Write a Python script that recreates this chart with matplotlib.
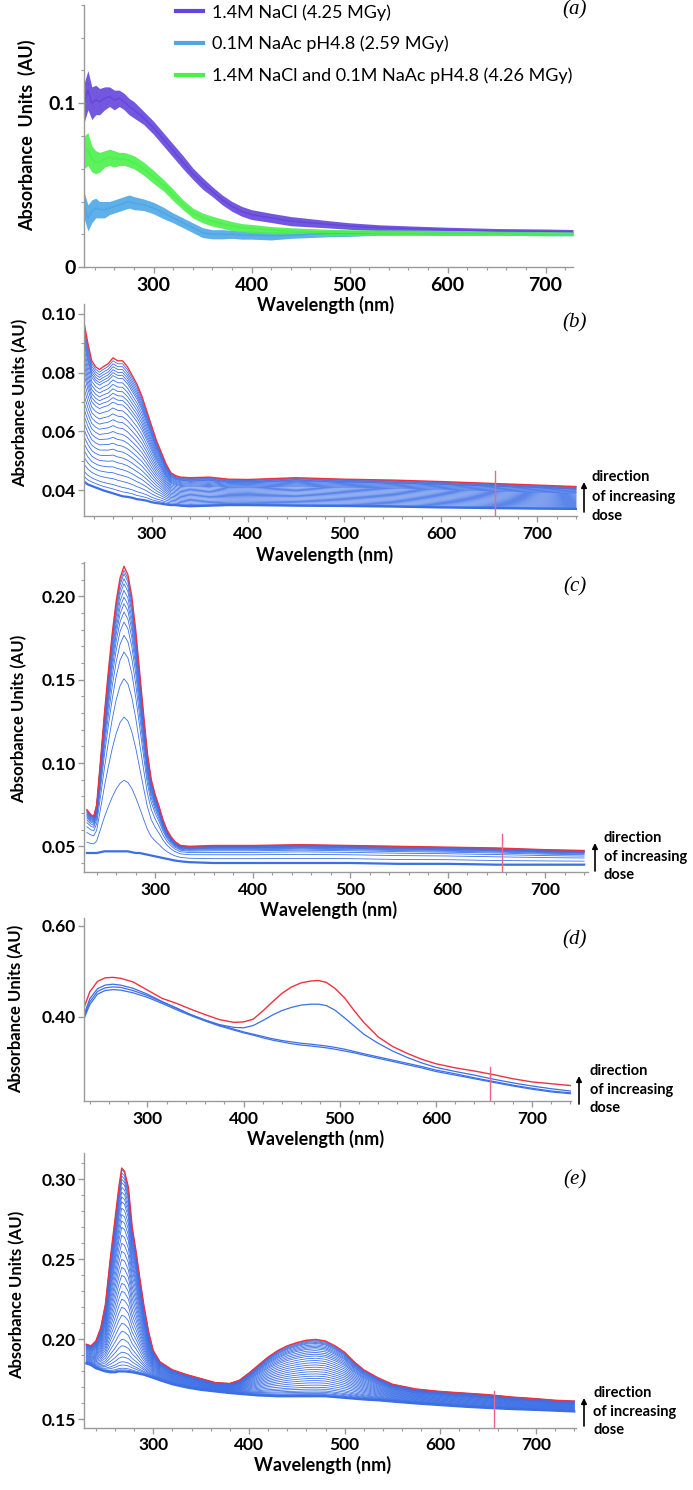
import numpy as np
import matplotlib.pyplot as plt
from matplotlib.ticker import MultipleLocator, FixedLocator, FormatStrFormatter

plt.rcParams['font.family'] = ['Lato', 'DejaVu Sans']
plt.rcParams['font.weight'] = 'bold'

W, H = 693, 1490
BLUE = '#3c6fe6'
RED = '#ee3340'
PINK = '#f0648a'

# ---- panel (a): three spectra, centre line and noise half-width
wl_a = [229, 233, 237, 241, 245, 250, 255, 260, 265, 270, 275, 280, 290, 300, 310, 320, 330, 340,
        350, 360, 370, 380, 390, 400, 420, 440, 460, 480, 500, 530, 560, 600, 650, 700, 728]
nacl = [0.100, 0.108, 0.100, 0.102, 0.101, 0.103, 0.104, 0.102, 0.103, 0.101, 0.098, 0.096, 0.091,
        0.085, 0.078, 0.071, 0.064, 0.057, 0.051, 0.046, 0.041, 0.037, 0.034, 0.032, 0.030, 0.028,
        0.027, 0.026, 0.025, 0.024, 0.0235, 0.0228, 0.022, 0.0218, 0.0215]
nacl_noise = [0.012, 0.012, 0.010, 0.009, 0.008, 0.007, 0.006, 0.006, 0.005, 0.005, 0.005, 0.005,
              0.004, 0.004, 0.004, 0.004, 0.004, 0.0035, 0.0035, 0.003, 0.003, 0.003, 0.003, 0.003,
              0.0028, 0.0028, 0.0025, 0.0022, 0.002, 0.0018, 0.0016, 0.0015, 0.0015, 0.0014, 0.0014]
naac = [0.038, 0.030, 0.034, 0.036, 0.035, 0.035, 0.036, 0.037, 0.038, 0.039, 0.040, 0.039, 0.038,
        0.036, 0.033, 0.030, 0.027, 0.024, 0.021, 0.020, 0.020, 0.020, 0.0195, 0.0195, 0.019, 0.0195,
        0.020, 0.0205, 0.0205, 0.021, 0.021, 0.0208, 0.0208, 0.0205, 0.0205]
naac_noise = [0.008, 0.008, 0.007, 0.006, 0.005, 0.005, 0.004, 0.004, 0.004, 0.004, 0.004, 0.004,
              0.0035, 0.0035, 0.0035, 0.003, 0.003, 0.003, 0.003, 0.0028, 0.0028, 0.0025, 0.0025,
              0.0025, 0.0025, 0.002, 0.002, 0.002, 0.0018, 0.0016, 0.0015, 0.0015, 0.0014, 0.0014, 0.0014]
both = [0.070, 0.072, 0.066, 0.064, 0.064, 0.066, 0.067, 0.066, 0.066, 0.066, 0.065, 0.064, 0.060,
        0.055, 0.050, 0.044, 0.038, 0.033, 0.030, 0.028, 0.0265, 0.025, 0.024, 0.0235, 0.0225, 0.022,
        0.0215, 0.021, 0.021, 0.021, 0.021, 0.0208, 0.0208, 0.0205, 0.0205]
both_noise = [0.010, 0.010, 0.008, 0.007, 0.006, 0.005, 0.005, 0.005, 0.004, 0.004, 0.004, 0.004,
              0.004, 0.004, 0.0035, 0.0035, 0.003, 0.003, 0.003, 0.003, 0.0028, 0.0028, 0.0025, 0.0025,
              0.0022, 0.002, 0.002, 0.002, 0.0018, 0.0016, 0.0015, 0.0015, 0.0014, 0.0014, 0.0014]
labels_a = ['1.4M NaCl (4.25 MGy)', '0.1M NaAc pH4.8 (2.59 MGy)',
            '1.4M NaCl and 0.1M NaAc pH4.8 (4.26 MGy)']
colors_a = ['#6446dc', '#4ea6e6', '#4cf04c']

# ---- panel (b): highest-dose (red) and lowest-dose curves, plus dose levels at 260 nm
wl_b = [230, 234, 238, 242, 246, 250, 255, 260, 265, 270, 275, 280, 285, 290, 295, 300, 305, 310,
        315, 320, 325, 330, 340, 360, 380, 400, 450, 500, 550, 600, 650, 700, 740]
top_b = [0.097, 0.090, 0.084, 0.082, 0.081, 0.082, 0.083, 0.085, 0.084, 0.084, 0.082, 0.079, 0.076,
         0.072, 0.067, 0.062, 0.057, 0.053, 0.049, 0.046, 0.045, 0.0445, 0.0443, 0.0445, 0.0438,
         0.0437, 0.0443, 0.0438, 0.0435, 0.0430, 0.0424, 0.0418, 0.0413]
low_b = [0.043, 0.042, 0.0415, 0.041, 0.0405, 0.040, 0.0395, 0.039, 0.0385, 0.038, 0.0378, 0.0375,
         0.037, 0.0368, 0.0365, 0.036, 0.0357, 0.0355, 0.0352, 0.035, 0.035, 0.0348, 0.0346, 0.0348,
         0.035, 0.035, 0.0348, 0.0347, 0.0345, 0.0342, 0.034, 0.0338, 0.0337]
ref_b = 260
levels_b = [0.0390, 0.0405, 0.042, 0.044, 0.046, 0.048, 0.050, 0.052, 0.054, 0.056, 0.058, 0.060,
            0.062, 0.064, 0.066, 0.068, 0.070, 0.0715, 0.073, 0.0745, 0.076, 0.0775, 0.079, 0.080,
            0.081, 0.082, 0.083, 0.084]

# ---- panel (c)
wl_c = [230, 234, 237, 240, 244, 248, 252, 256, 260, 264, 268, 272, 276, 280, 284, 288, 292, 296,
        300, 304, 308, 312, 316, 320, 326, 335, 360, 400, 450, 500, 550, 600, 650, 700, 740]
top_c = [0.072, 0.069, 0.068, 0.075, 0.102, 0.130, 0.155, 0.178, 0.197, 0.211, 0.218, 0.213, 0.200,
         0.180, 0.155, 0.130, 0.106, 0.090, 0.081, 0.074, 0.066, 0.060, 0.056, 0.053, 0.0505, 0.050,
         0.0505, 0.0505, 0.051, 0.0505, 0.050, 0.0495, 0.049, 0.048, 0.0475]
low_c = [0.046, 0.046, 0.046, 0.046, 0.0465, 0.047, 0.047, 0.047, 0.047, 0.047, 0.047, 0.047, 0.0465,
         0.046, 0.046, 0.0455, 0.045, 0.0445, 0.044, 0.0435, 0.043, 0.0425, 0.042, 0.0415, 0.041,
         0.0405, 0.040, 0.040, 0.040, 0.040, 0.0395, 0.0395, 0.039, 0.039, 0.039]
ref_c = 268
levels_c = [0.047, 0.0896, 0.1276, 0.1506, 0.1666, 0.1766, 0.1846, 0.1906, 0.1956, 0.1996, 0.2036,
            0.2076, 0.2106, 0.2136, 0.2156]

# ---- panel (d): only a handful of spectra
wl_d = [234, 240, 248, 256, 264, 272, 285, 300, 315, 330, 345, 360, 375, 390, 400, 410, 420, 430,
        440, 450, 460, 470, 478, 486, 495, 505, 515, 525, 540, 555, 570, 585, 600, 620, 640, 660,
        680, 700, 720, 740]
red_d = [0.420, 0.455, 0.478, 0.486, 0.487, 0.485, 0.477, 0.459, 0.441, 0.430, 0.417, 0.405, 0.394,
         0.388, 0.389, 0.395, 0.413, 0.433, 0.452, 0.466, 0.475, 0.479, 0.480, 0.476, 0.463, 0.442,
         0.414, 0.388, 0.356, 0.335, 0.320, 0.307, 0.297, 0.288, 0.281, 0.273, 0.264, 0.257, 0.253,
         0.249]
blue_d = [
    [0.405, 0.440, 0.462, 0.470, 0.472, 0.470, 0.463, 0.450, 0.434, 0.420, 0.405, 0.393, 0.383,
     0.377, 0.376, 0.381, 0.392, 0.404, 0.414, 0.421, 0.426, 0.428, 0.428, 0.425, 0.415, 0.398,
     0.380, 0.362, 0.342, 0.325, 0.311, 0.299, 0.289, 0.280, 0.272, 0.263, 0.255, 0.248, 0.242,
     0.237],
    [0.400, 0.433, 0.456, 0.464, 0.466, 0.465, 0.458, 0.447, 0.433, 0.419, 0.405, 0.393, 0.382,
     0.373, 0.367, 0.362, 0.357, 0.352, 0.348, 0.345, 0.342, 0.340, 0.338, 0.336, 0.333, 0.329,
     0.324, 0.319, 0.312, 0.305, 0.298, 0.291, 0.283, 0.275, 0.266, 0.258, 0.250, 0.243, 0.237,
     0.233],
    [0.396, 0.427, 0.450, 0.458, 0.460, 0.459, 0.453, 0.443, 0.430, 0.416, 0.403, 0.391, 0.380,
     0.371, 0.365, 0.360, 0.354, 0.349, 0.345, 0.341, 0.338, 0.336, 0.334, 0.332, 0.329, 0.325,
     0.321, 0.316, 0.309, 0.302, 0.295, 0.288, 0.280, 0.272, 0.264, 0.256, 0.248, 0.241, 0.235,
     0.231],
]

# ---- panel (e)
wl_e = [230, 235, 240, 245, 250, 255, 260, 264, 267, 270, 274, 278, 282, 286, 290, 295, 300, 307,
        320, 335, 350, 365, 380, 390, 400, 410, 420, 430, 440, 450, 460, 470, 480, 490, 500, 510,
        520, 535, 550, 575, 600, 625, 650, 675, 700, 720, 740]
top_e = [0.197, 0.196, 0.199, 0.207, 0.222, 0.250, 0.275, 0.295, 0.307, 0.305, 0.295, 0.270, 0.255,
         0.238, 0.222, 0.205, 0.193, 0.186, 0.181, 0.178, 0.1755, 0.173, 0.1725, 0.1745, 0.179,
         0.184, 0.189, 0.193, 0.196, 0.198, 0.1995, 0.200, 0.199, 0.196, 0.192, 0.186, 0.181, 0.176,
         0.172, 0.169, 0.1675, 0.1665, 0.1655, 0.164, 0.163, 0.162, 0.1615]
low_e = [0.185, 0.184, 0.182, 0.181, 0.180, 0.1795, 0.1795, 0.180, 0.180, 0.180, 0.1798, 0.1795,
         0.179, 0.1785, 0.178, 0.177, 0.176, 0.1745, 0.172, 0.170, 0.1685, 0.1675, 0.1665, 0.166,
         0.1655, 0.165, 0.1648, 0.1645, 0.1645, 0.1645, 0.1645, 0.1645, 0.1645, 0.164, 0.1635, 0.163,
         0.1625, 0.162, 0.1612, 0.160, 0.159, 0.158, 0.1572, 0.1565, 0.156, 0.1555, 0.155]
ref_e = 267
levels_e = [0.180, 0.181, 0.182, 0.184, 0.186, 0.189, 0.192, 0.196, 0.200, 0.205, 0.210, 0.215,
            0.220, 0.225, 0.230, 0.235, 0.240, 0.245, 0.250, 0.255, 0.260, 0.265, 0.270, 0.274,
            0.278, 0.282, 0.286, 0.289, 0.292, 0.295, 0.298, 0.300, 0.302, 0.304, 0.306]

# lamp line artefact at 656 nm (top of the pink spike in panels b-e)
spike_wl = 656
spike_top = {'b': 0.0465, 'c': 0.0576, 'd': 0.290, 'e': 0.168}

fig = plt.figure(figsize=(W / 100, H / 100), dpi=100)


def axes_px(left, top, right, bottom):
    ax = fig.add_axes([left / W, 1 - bottom / H, (right - left) / W, (bottom - top) / H])
    ax.set_facecolor('none')
    return ax


def style(ax, xlim, ylim, ymajor, yfmt, yminor=None, lab_fs=12.5):
    ax.set_xlim(*xlim)
    ax.set_ylim(*ylim)
    for s in ['top', 'right']:
        ax.spines[s].set_visible(False)
    for s in ['left', 'bottom']:
        ax.spines[s].set_color('#9a9a9a')
        ax.spines[s].set_linewidth(1)
    ax.xaxis.set_major_locator(MultipleLocator(100))
    ax.xaxis.set_minor_locator(MultipleLocator(20))
    ax.yaxis.set_major_locator(FixedLocator(ymajor))
    if yminor:
        ax.yaxis.set_minor_locator(MultipleLocator(yminor))
    ax.yaxis.set_major_formatter(FormatStrFormatter(yfmt))
    ax.tick_params(which='both', color='#9a9a9a', direction='out')
    ax.tick_params(which='major', length=4, width=1, labelsize=lab_fs)
    ax.tick_params(which='minor', length=2.5, width=0.8)
    ax.tick_params(axis='x', pad=3)
    ax.tick_params(axis='y', pad=2)


def labels(ax, xl, yl, ylab='Absorbance Units (AU)', fs=12):
    ax.set_xlabel('Wavelength (nm)', fontsize=13, fontweight='bold')
    ax.set_ylabel(ylab, fontsize=fs, fontweight='bold')
    ax.xaxis.set_label_coords(*xl)
    ax.xaxis.label.set_va('center')
    ax.yaxis.set_label_coords(*yl)
    ax.yaxis.label.set_va('center')


def family(ax, wl, top, low, ref, levels):
    wl = np.asarray(wl, float)
    top = np.asarray(top)
    low = np.asarray(low)
    t_ref = np.interp(ref, wl, top)
    l_ref = np.interp(ref, wl, low)
    for lev in levels:
        f = (lev - l_ref) / (t_ref - l_ref)
        ax.plot(wl, low + f * (top - low), color=BLUE, lw=0.6)
    ax.plot(wl, low, color=BLUE, lw=1.6)
    ax.plot(wl, top, color=RED, lw=1.0)


def spike(ax, key):
    ax.plot([spike_wl, spike_wl], [ax.get_ylim()[0], spike_top[key]], color=PINK, lw=1.0)


def panel_tag(txt, y):
    fig.text(575 / W, 1 - y / H, '(%s)' % txt, fontsize=15, fontweight='normal',
             fontstyle='italic', family='Liberation Serif', ha='center', va='center')


def dose_note(x_arrow, x_text, rows):
    for y, s in zip(rows, ['direction', 'of increasing', 'dose']):
        fig.text(x_text / W, 1 - y / H, s, fontsize=10.5, fontweight='bold', ha='left',
                 va='center')
    fig.add_artist(plt.Annotation('', xy=(x_arrow, H - (rows[0] + 5)),
                                  xytext=(x_arrow, H - (rows[2] - 4)),
                                  xycoords='figure pixels', textcoords='figure pixels',
                                  arrowprops=dict(arrowstyle='-|>', color='black', lw=1.2,
                                                  mutation_scale=8, shrinkA=0, shrinkB=0)))


# ---- (a)
ax = axes_px(84, 5, 573, 267)
style(ax, (229, 728), (0, 0.16), [0, 0.1], '%g', 0.02, lab_fs=14)
for y, n, c, lab in [(nacl, nacl_noise, colors_a[0], labels_a[0]),
                     (naac, naac_noise, colors_a[1], labels_a[1]),
                     (both, both_noise, colors_a[2], labels_a[2])]:
    y = np.asarray(y)
    n = np.asarray(n)
    ax.fill_between(wl_a, y - n, y + n, color=c, lw=0, alpha=0.9)
    ax.plot(wl_a, y, color=c, lw=1.0, label=lab)
leg = ax.legend(loc='upper left', bbox_to_anchor=(176 / W, 1 - 4 / H),
                bbox_transform=fig.transFigure, frameon=False,
                prop={'size': 13, 'weight': 'normal'},
                handlelength=1.5, handletextpad=0.5, labelspacing=0.85, borderpad=0,
                borderaxespad=0)
for h in leg.legend_handles:
    h.set_linewidth(3)
labels(ax, (0.493, -0.145), (-0.117, 0.504), ylab='Absorbance  Units  (AU)', fs=13)
panel_tag('a', 10)

# ---- (b)
ax = axes_px(84, 304, 577, 516)
style(ax, (230, 741), (0.0313, 0.1033), [0.04, 0.06, 0.08, 0.10], '%.2f', 0.01)
family(ax, wl_b, top_b, low_b, ref_b, levels_b)
spike(ax, 'b')
labels(ax, (0.487, -0.184), (-0.13, 0.533))
panel_tag('b', 323)
dose_note(584, 592, [477, 497, 516])

# ---- (c)
ax = axes_px(84, 562, 588, 872)
style(ax, (227, 744), (0.0346, 0.2206), [0.05, 0.10, 0.15, 0.20], '%.2f', 0.01)
family(ax, wl_c, top_c, low_c, ref_c, levels_c)
spike(ax, 'c')
labels(ax, (0.486, -0.1226), (-0.128, 0.494))
panel_tag('c', 587)
dose_note(595, 604, [838, 857, 875])

# ---- (d)
ax = axes_px(84, 918, 571, 1101)
style(ax, (234, 740.6), (0.215, 0.6176), [0.40, 0.60], '%.2f')
for y in blue_d:
    ax.plot(wl_d, y, color=BLUE, lw=0.9)
ax.plot(wl_d, red_d, color=RED, lw=1.0)
spike(ax, 'd')
labels(ax, (0.475, -0.206), (-0.14, 0.502))
panel_tag('d', 940)
dose_note(579, 590, [1071, 1090, 1108])

# ---- (e)
ax = axes_px(84, 1153, 576, 1427.5)
style(ax, (227.6, 741.8), (0.145, 0.3164), [0.15, 0.20, 0.25, 0.30], '%.2f', 0.01)
family(ax, wl_e, top_e, low_e, ref_e, levels_e)
spike(ax, 'e')
labels(ax, (0.484, -0.137), (-0.135, 0.483))
panel_tag('e', 1180)
dose_note(584, 593, [1393, 1412, 1430])

fig.savefig('out.png', dpi=100)
